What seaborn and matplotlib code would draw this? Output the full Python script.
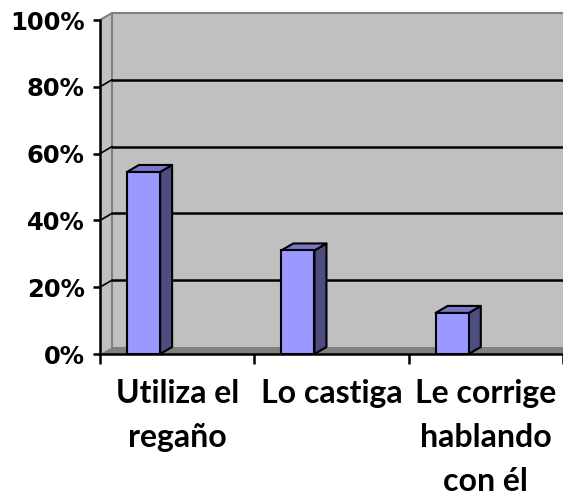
import matplotlib
matplotlib.use('Agg')
import matplotlib.pyplot as plt
import seaborn as sns
import pandas as pd
from matplotlib.patches import Polygon, Rectangle
from matplotlib.ticker import PercentFormatter

# Data
categories = ['Utiliza el\nregaño', 'Lo castiga', 'Le corrige\nhablando\ncon él']
values = [0.545, 0.31, 0.123]

df = pd.DataFrame({'cat': categories, 'val': values})

sns.set_style('white')

# colours (Excel 2003 style 3D column)
wall_col = '#C0C0C0'
floor_col = '#808080'
front_col = '#9999FF'
top_col = '#7777CC'
side_col = '#4D4D80'

fig = plt.figure(figsize=(5.63, 4.97), dpi=100)
ax = fig.add_axes([100 / 563, 1 - 354 / 497, 463 / 563, 334 / 497])

bar_w = 0.215
sns.barplot(data=df, x='cat', y='val', color=front_col, saturation=1,
            width=bar_w, edgecolor='black', linewidth=1.5, ax=ax, zorder=5)

x0, x1 = -0.282, 2.718
ax.set_xlim(x0, x1)
ax.set_ylim(0, 1)

# depth offset of the 3D box (in data units)
dx, dy = 12 / 154.3, 7 / 334

# back wall, side wall and floor
ax.add_patch(Rectangle((x0 + dx, dy), x1 - x0 + 0.2, 1, facecolor=wall_col,
                       edgecolor='none', zorder=0, clip_on=False))
ax.add_patch(Polygon([(x0, 0), (x0, 1), (x0 + dx, 1 + dy), (x0 + dx, dy)],
                     facecolor=wall_col, edgecolor='none', zorder=0, clip_on=False))
ax.add_patch(Polygon([(x0, 0), (x1 + 0.2, 0), (x1 + 0.2, dy), (x0 + dx, dy)],
                     facecolor=floor_col, edgecolor='none', zorder=1, clip_on=False))
ax.plot([x0 + dx, x0 + dx], [dy, 1 + dy], color='#808080', lw=1.5, zorder=1, clip_on=False)
ax.plot([x0, x0 + dx, x1 + 0.2], [1, 1 + dy, 1 + dy], color='#808080', lw=1.5, zorder=1, clip_on=False)

# gridlines on back wall
for v in [0.2, 0.4, 0.6, 0.8]:
    ax.plot([x0 + dx, x1 + 0.2], [v + dy, v + dy], color='black', lw=1.8, zorder=1, clip_on=False)
    ax.plot([x0, x0 + dx], [v, v + dy], color='black', lw=1.2, zorder=1, clip_on=False)

# side and top faces of bars
for p in ax.patches[:]:
    if p.get_facecolor()[:3] != matplotlib.colors.to_rgb(front_col):
        continue
    bx, bw, bh = p.get_x(), p.get_width(), p.get_height()
    ax.add_patch(Polygon([(bx + bw, 0), (bx + bw + dx, dy), (bx + bw + dx, bh + dy), (bx + bw, bh)],
                         facecolor=side_col, edgecolor='black', lw=1.5, zorder=4,
                         joinstyle='round'))
    ax.add_patch(Polygon([(bx, bh), (bx + dx, bh + dy), (bx + bw + dx, bh + dy), (bx + bw, bh)],
                         facecolor=top_col, edgecolor='black', lw=1.5, zorder=4,
                         joinstyle='round'))

# axes
for s in ['top', 'right']:
    ax.spines[s].set_visible(False)
for s in ['left', 'bottom']:
    ax.spines[s].set_color('black')
    ax.spines[s].set_linewidth(1.8)
    ax.spines[s].set_zorder(6)

ax.set_yticks([0, 0.2, 0.4, 0.6, 0.8, 1.0])
ax.yaxis.set_major_formatter(PercentFormatter(1.0, decimals=0))
ax.tick_params(axis='y', direction='out', length=5, width=1.8, color='black',
               labelcolor='black', left=True, pad=6)
for t in ax.get_yticklabels():
    t.set_fontweight('bold')
    t.set_fontsize(17.5)

# category boundaries as major ticks, labels at category centres as minor ticks
ax.set_xticks([x0, x0 + 1, x0 + 2, x0 + 3])
ax.set_xticklabels(['', '', '', ''])
ax.tick_params(axis='x', which='major', direction='out', length=7, width=1.8,
               color='black', bottom=True)
ax.set_xticks([x0 + 0.5, x0 + 1.5, x0 + 2.5], minor=True)
ax.set_xticklabels(categories, minor=True, fontsize=23, fontweight='bold',
                   family=['Lato', 'DejaVu Sans'], linespacing=1.62, color='black')
ax.tick_params(axis='x', which='minor', length=0, pad=18)
ax.set_xlabel('')
ax.set_ylabel('')
ax.set_facecolor('white')

fig.savefig('out.png', dpi=100)
